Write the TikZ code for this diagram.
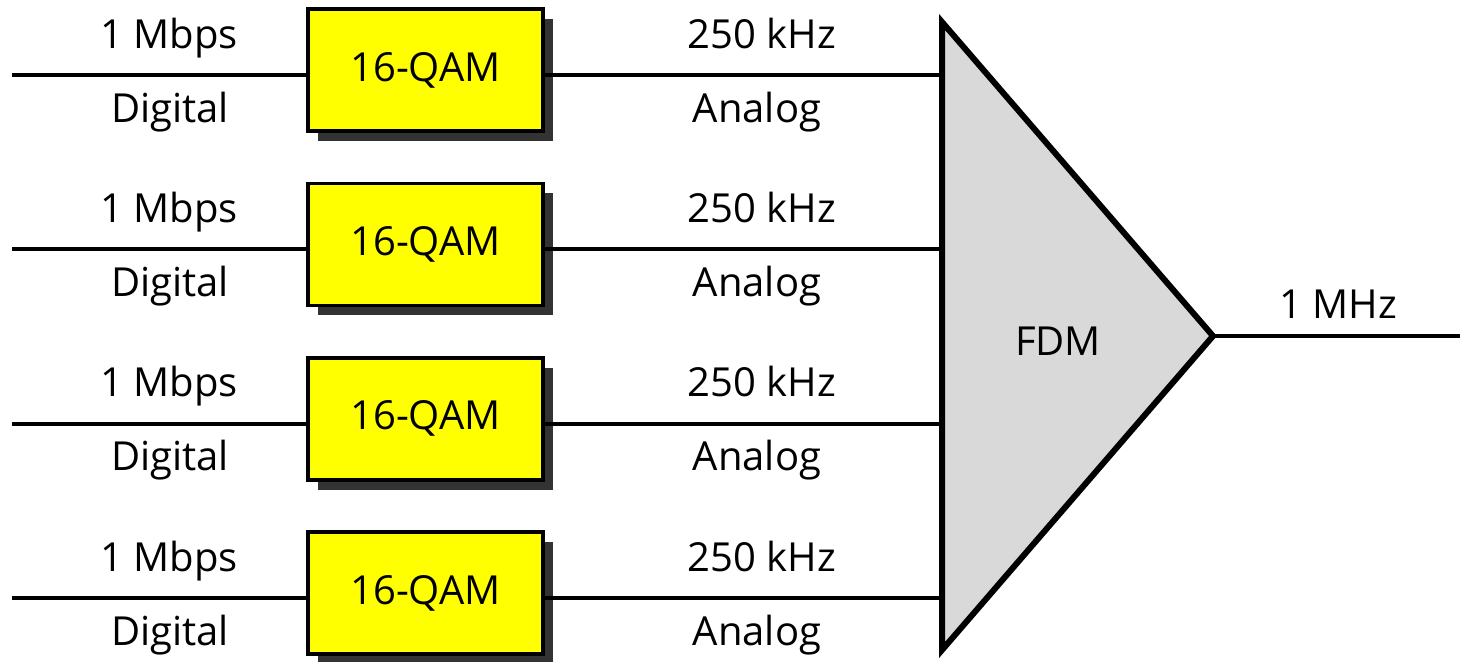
\documentclass[tikz,border=0pt]{standalone}
\usepackage{fontspec}
\setmainfont{Open Sans}
\usetikzlibrary{shadows}
\definecolor{fdmgray}{HTML}{D9D9D9}
\definecolor{shadowgray}{HTML}{333333}
\definecolor{qamyellow}{HTML}{FFFF00}
\tikzset{
  lbl/.style={anchor=base, inner sep=0pt, font=\fontsize{20}{24}\selectfont},
  qam/.style={draw=black, line width=1.8pt, fill=qamyellow, minimum width=117.5pt,
    minimum height=61pt, inner sep=0pt, font=\fontsize{20}{24}\selectfont,
    drop shadow={shadow xshift=5pt, shadow yshift=-5pt, opacity=1, fill=shadowgray}},
  wire/.style={line width=2pt},
  fdm/.style={line width=3pt, fill=fdmgray, line join=miter},
}
\begin{document}
\begin{tikzpicture}[x=0.5pt, y=-0.5pt]
\useasboundingbox (0,0) rectangle (1460,661);
% FDM triangle
\coordinate (ftop) at (942,22);
\coordinate (fapex) at (1213,336);
\coordinate (fbot) at (942,650);
\draw[fdm] (ftop) -- (fapex) -- (fbot) -- cycle;
\node[lbl] (fdmlbl) at (1058,355) {FDM};
\coordinate (out) at (1460,336);
\draw[wire] (fapex) -- (out);
\node[lbl] (mhz) at (1338,318) {1 MHz};
\foreach \i/\y in {1/75, 2/249.3, 3/423.7, 4/598} {
  \coordinate (in\i) at (12,\y);
  \coordinate (t\i) at (942,\y);
  \node[qam] (q\i) at (425.5,\y-5) {16-QAM};
  \draw[wire] (in\i) -- (in\i -| q\i.west);
  \draw[wire] (t\i -| q\i.east) -- (t\i);
  \node[lbl] (mb\i) at (169,\y-27) {1 Mbps};
  \node[lbl] (dg\i) at (170,\y+47) {Digital};
  \node[lbl] (kh\i) at (762,\y-27) {250 kHz};
  \node[lbl] (an\i) at (757,\y+47) {Analog};
}
\end{tikzpicture}
\end{document}
